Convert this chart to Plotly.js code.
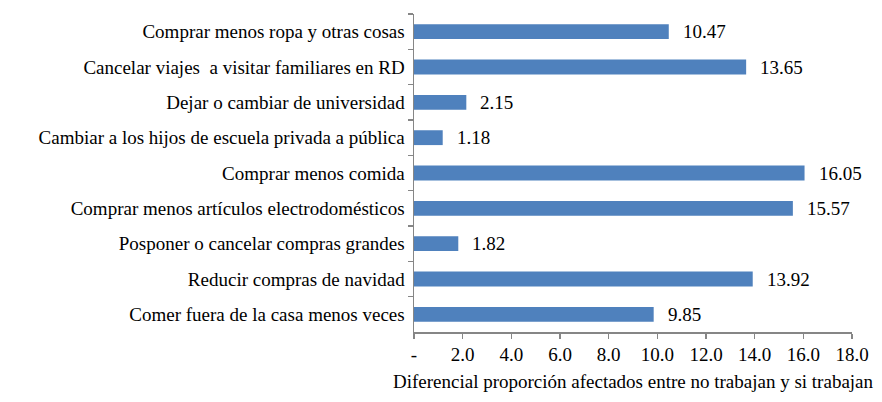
<!DOCTYPE html>
<html><head><meta charset="utf-8">
<script src="https://cdn.plot.ly/plotly-3.0.1.min.js"></script>
<style>body{margin:0;background:#fff}#c{width:882px;height:402px}
#c text{font-family:"Liberation Serif",serif !important}</style>
</head><body><div id="c"></div>
<script>
const categories = [
  "Comprar menos ropa y otras cosas",
  "Cancelar viajes  a visitar familiares en RD",
  "Dejar o cambiar de universidad",
  "Cambiar a los hijos de escuela privada a pública",
  "Comprar menos comida",
  "Comprar menos artículos electrodomésticos",
  "Posponer o cancelar compras grandes",
  "Reducir compras de navidad",
  "Comer fuera de la casa menos veces"
];
const values = [10.47, 13.65, 2.15, 1.18, 16.05, 15.57, 1.82, 13.92, 9.85];
const tickVals = [0, 2, 4, 6, 8, 10, 12, 14, 16, 18];
const tickText = ["-", "2.0", "4.0", "6.0", "8.0", "10.0", "12.0", "14.0", "16.0", "18.0"];
const xTitle = "Diferencial proporción afectados entre no trabajan y si trabajan";

const font = "Liberation Serif";
const fs = 19;
const labels = categories.map(c => c.replace(/ /g, "\u00a0"));
const trace = {
  type: "bar", orientation: "h",
  y: labels, x: values,
  marker: {color: "#4F81BD"},
  width: 0.42, hoverinfo: "none"
};
const annotations = values.map((v, i) => ({
  x: v, y: labels[i], xref: "x", yref: "y",
  text: v.toFixed(2), showarrow: false, xanchor: "left", xshift: 12,
  font: {family: font, size: fs, color: "#000"}
}));
const layout = {
  width: 882, height: 402,
  margin: {l: 414, r: 30, t: 14, b: 70},
  paper_bgcolor: "#fff", plot_bgcolor: "#fff",
  font: {family: font, size: fs, color: "#000"},
  showlegend: false,
  xaxis: {
    range: [0, 18], tickvals: tickVals, ticktext: tickText,
    showgrid: false, zeroline: false, showline: true, linecolor: "#868686", linewidth: 1.5,
    ticks: "outside", ticklen: 5, tickcolor: "#868686", tickwidth: 1.5,
    tickfont: {family: font, size: fs, color: "#000"},
    title: {text: xTitle, font: {family: font, size: fs, color: "#000"}, standoff: 10}
  },
  yaxis: {
    type: "category", autorange: "reversed",
    showgrid: false, zeroline: false, showline: true, linecolor: "#868686", linewidth: 1.5,
    ticks: "outside", ticklen: 5, tickcolor: "#868686", tickwidth: 1.5, tickson: "boundaries",
    tickfont: {family: font, size: fs, color: "#000"},
    ticklabelstandoff: 4
  },
  annotations: annotations
};
Plotly.newPlot("c", [trace], layout, {displayModeBar: false, staticPlot: true});
</script></body></html>
